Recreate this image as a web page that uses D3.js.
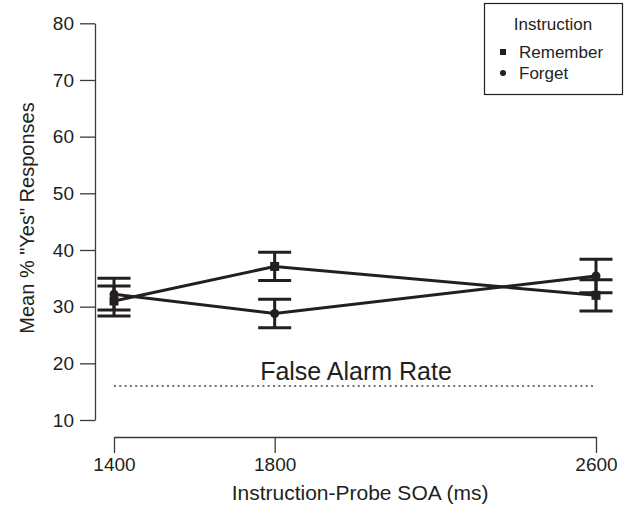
<!DOCTYPE html>
<html>
<head>
<meta charset="utf-8">
<script src="https://cdn.jsdelivr.net/npm/d3@7"></script>
<style>
  body { margin: 0; background: #fff; }
  text { font-family: "Liberation Sans", Arial, sans-serif; fill: #231f20; }
</style>
</head>
<body>
<svg id="chart" width="629" height="511"></svg>
<script>
// data
var soa = [1400, 1800, 2600]
var rememberMean = [31.0, 37.1, 32.0]
var rememberErr = [2.65, 2.5, 2.75]
var forgetMean = [32.2, 28.8, 35.4]
var forgetErr = [2.8, 2.5, 2.95]
var falseAlarm = 16
var yTicks = [10, 20, 30, 40, 50, 60, 70, 80]

var svg = d3.select("#chart")
var ink = "#231f20"

var x = d3.scaleLinear().domain([1400, 2600]).range([114, 596])
var y = d3.scaleLinear().domain([10, 80]).range([420, 23.3])

// y axis
var yAxis = d3.axisLeft(y).tickValues(yTicks).tickSize(15).tickPadding(6).tickSizeOuter(0)
var gy = svg.append("g").attr("transform", "translate(95,0)").call(yAxis)
gy.selectAll("path, line").attr("stroke", "#3a3a3a").attr("stroke-width", 1.3)
gy.selectAll("text").attr("font-size", 19).style("font-family", "Liberation Sans, Arial, sans-serif").attr("fill", ink)

// x axis (ticks hang down from the line)
var xAxis = d3.axisBottom(x).tickValues(soa).tickFormat(d3.format("d")).tickSize(16).tickPadding(5).tickSizeOuter(0)
var gx = svg.append("g").attr("transform", "translate(0,437)").call(xAxis)
gx.selectAll("path, line").attr("stroke", "#3a3a3a").attr("stroke-width", 1.3)
gx.selectAll("text").attr("font-size", 19).style("font-family", "Liberation Sans, Arial, sans-serif").attr("fill", ink)

// axis titles
svg.append("text")
    .attr("x", 360).attr("y", 500)
    .attr("text-anchor", "middle").attr("font-size", 21)
    .text("Instruction-Probe SOA (ms)")
svg.append("text")
    .attr("transform", "translate(34,218) rotate(-90)")
    .attr("text-anchor", "middle").attr("font-size", 20)
    .text('Mean % "Yes" Responses')

// false alarm reference line
svg.append("line")
    .attr("x1", x(1400)).attr("x2", x(2600))
    .attr("y1", y(falseAlarm)).attr("y2", y(falseAlarm))
    .attr("stroke", "#444").attr("stroke-width", 1.3)
    .attr("stroke-dasharray", "2,3.3")
svg.append("text")
    .attr("x", 356).attr("y", 380)
    .attr("text-anchor", "middle").attr("font-size", 25)
    .text("False Alarm Rate")

var series = [
    { name: "Remember", mean: rememberMean, err: rememberErr, shape: "square" },
    { name: "Forget", mean: forgetMean, err: forgetErr, shape: "circle" }
]

var line = d3.line().x(function (d) { return x(d[0]) }).y(function (d) { return y(d[1]) })

series.forEach(function (s) {
    var pts = soa.map(function (v, i) { return [v, s.mean[i], s.err[i]] })

    // error bars
    var eb = svg.append("g").attr("stroke", ink).attr("stroke-width", 3)
    pts.forEach(function (p) {
        var cx = x(p[0])
        eb.append("line").attr("x1", cx).attr("x2", cx).attr("y1", y(p[1] - p[2])).attr("y2", y(p[1] + p[2]))
        eb.append("line").attr("x1", cx - 16.5).attr("x2", cx + 16.5).attr("y1", y(p[1] + p[2])).attr("y2", y(p[1] + p[2]))
        eb.append("line").attr("x1", cx - 16.5).attr("x2", cx + 16.5).attr("y1", y(p[1] - p[2])).attr("y2", y(p[1] - p[2]))
    })

    svg.append("path").datum(pts)
        .attr("d", line)
        .attr("fill", "none").attr("stroke", ink).attr("stroke-width", 3)

    // markers
    if (s.shape === "square") {
        svg.selectAll(null).data(pts).join("rect")
            .attr("x", function (d) { return x(d[0]) - 4.5 })
            .attr("y", function (d) { return y(d[1]) - 4.5 })
            .attr("width", 9).attr("height", 9).attr("fill", ink)
    } else {
        svg.selectAll(null).data(pts).join("circle")
            .attr("cx", function (d) { return x(d[0]) })
            .attr("cy", function (d) { return y(d[1]) })
            .attr("r", 4.5).attr("fill", ink)
    }
})

// legend
var lg = svg.append("g")
lg.append("rect").attr("x", 484.5).attr("y", 3.5).attr("width", 138).attr("height", 91)
    .attr("fill", "#fff").attr("stroke", ink).attr("stroke-width", 1.2)
lg.append("text").attr("x", 553).attr("y", 30).attr("text-anchor", "middle").attr("font-size", 17).text("Instruction")
lg.append("rect").attr("x", 500).attr("y", 49).attr("width", 6).attr("height", 6).attr("fill", ink)
lg.append("text").attr("x", 519).attr("y", 58).attr("font-size", 17).text(series[0].name)
lg.append("circle").attr("cx", 503).attr("cy", 73).attr("r", 3).attr("fill", ink)
lg.append("text").attr("x", 519).attr("y", 79).attr("font-size", 17).text(series[1].name)
</script>
</body>
</html>
